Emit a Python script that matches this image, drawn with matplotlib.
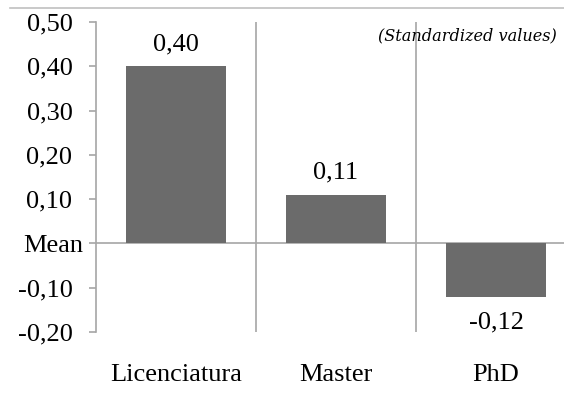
import numpy as np
import matplotlib
matplotlib.use("Agg")
import matplotlib.pyplot as plt
import matplotlib.transforms as mtransforms
from matplotlib.lines import Line2D

# standardized scores by degree
categories = ["Licenciatura", "Master", "PhD"]
values = [0.40, 0.11, -0.12]
ytick_vals = [0.5, 0.4, 0.3, 0.2, 0.1, 0.0, -0.1, -0.2]
ytick_labels = ["0,50", "0,40", "0,30", "0,20", "0,10", "Mean", "-0,10", "-0,20"]

bar_color = "#6b6b6b"
line_color = "#a6a6a6"
serif = "Liberation Serif"
fs = 19

fig = plt.figure(figsize=(5.64, 3.96), dpi=100)
ax = fig.add_axes([96 / 564, 1 - 332 / 396, 480 / 564, (332 - 22) / 396])

x = np.arange(len(categories))
ax.bar(x, values, width=0.625, color=bar_color, zorder=2)
ax.set_xlim(-0.5, len(categories) - 0.5)
ax.set_ylim(-0.2, 0.5)

# zero line and category separators
ax.axhline(0, color=line_color, lw=1.2, zorder=1)
for sep in x[:-1] + 0.5:
    ax.plot([sep, sep], [-0.2, 0.5], color=line_color, lw=1.2, zorder=1)

for s in ["top", "right", "bottom"]:
    ax.spines[s].set_visible(False)
ax.spines["left"].set_color(line_color)
ax.spines["left"].set_linewidth(1.2)

ax.set_yticks(ytick_vals)
ax.set_yticklabels(ytick_labels, fontfamily=serif, fontsize=fs)
ax.tick_params(axis="y", length=5, width=1.2, color=line_color, pad=12)
for lbl in ax.get_yticklabels():
    if lbl.get_text() == "Mean":
        lbl.set_transform(lbl.get_transform() +
                          mtransforms.ScaledTranslation(11 / 100, 0, fig.dpi_scale_trans))

ax.set_xticks(x)
ax.set_xticklabels(categories, fontfamily=serif, fontsize=fs)
ax.tick_params(axis="x", length=0, pad=23)

# value labels
for xi, v in zip(x, values):
    label = f"{v:.2f}".replace(".", ",")
    if v >= 0:
        ax.annotate(label, (xi, v), xytext=(0, 8), textcoords="offset points",
                    ha="center", va="bottom", fontfamily=serif, fontsize=fs)
    else:
        ax.annotate(label, (xi, v), xytext=(0, -11), textcoords="offset points",
                    ha="center", va="top", fontfamily=serif, fontsize=fs)

ax.text(378 / 564, 1 - 36 / 396, "(Standardized values)", transform=fig.transFigure,
        ha="left", va="center", fontfamily="DejaVu Serif", style="italic", fontsize=11.6)

# top border of the chart area
fig.add_artist(Line2D([10 / 564, 1], [1 - 8 / 396, 1 - 8 / 396], transform=fig.transFigure,
                      color="#c0c0c0", lw=1.2))

fig.savefig("out.png", dpi=100)
